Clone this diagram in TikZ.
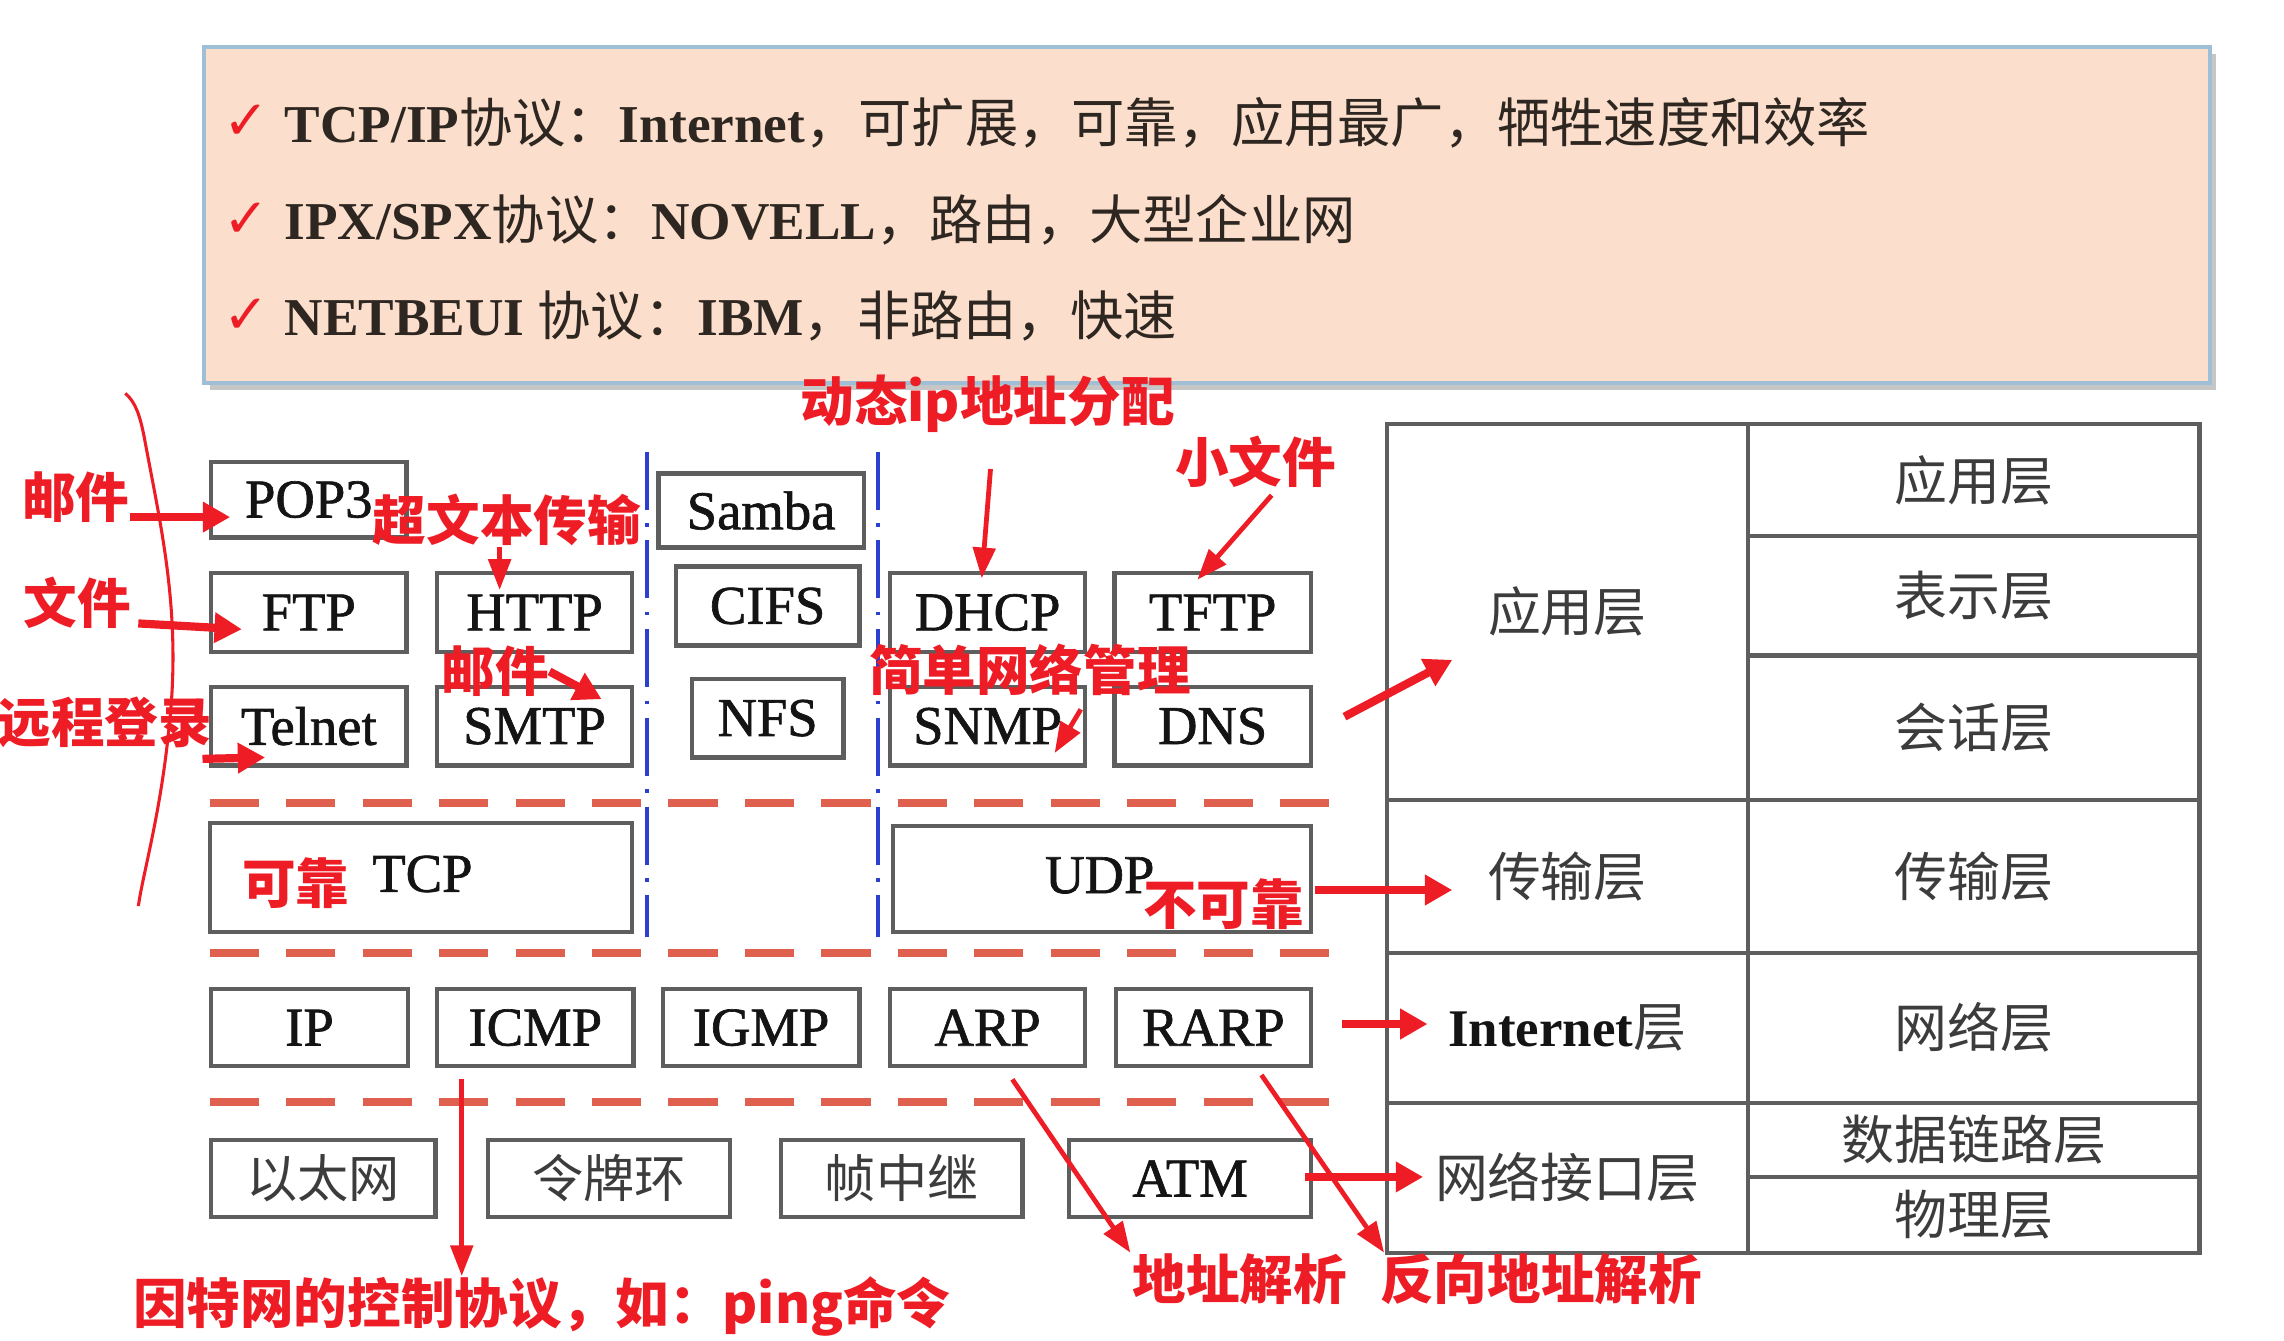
\documentclass[tikz,border=0pt]{standalone}
\usepackage{fontspec}
\setmainfont{Liberation Serif}
\newfontfamily\boxfont{Liberation Serif}[FakeBold=1.2]
\newfontfamily\cjk{Noto Sans CJK SC}
\newfontfamily\symf{DejaVu Sans}
\usetikzlibrary{arrows.meta}
\definecolor{annred}{HTML}{EE1C25}
\definecolor{dashred}{HTML}{E0604F}
\definecolor{vblue}{HTML}{2B3FD0}
\definecolor{boxgray}{HTML}{5E5E5E}
\definecolor{boxtext}{HTML}{141414}
\definecolor{tabtext}{HTML}{3C3C3C}
\definecolor{peach}{HTML}{FBDFCC}
\definecolor{peachborder}{HTML}{9EBFD6}
\definecolor{infotext}{HTML}{2E2620}
\begin{document}
\begin{tikzpicture}[x=0.015cm,y=-0.015cm,
  pbox/.style n args={2}{draw=boxgray, line width=1.3pt, fill=white, inner sep=0pt,
     minimum width=#1*0.015cm, minimum height=#2*0.015cm,
     font=\boxfont\fontsize{16}{16}\selectfont, text=boxtext},
  cbox/.style n args={2}{pbox={#1}{#2}, font=\cjk\fontsize{15}{15}\selectfont, text=tabtext},
  cell/.style n args={2}{draw=boxgray, line width=1.2pt, inner sep=0pt,
     minimum width=#1*0.015cm, minimum height=#2*0.015cm,
     font=\cjk\fontsize{15.5}{15.5}\selectfont, text=tabtext},
  ann/.style={text=annred, font=\cjk\bfseries\fontsize{15.7}{15.7}\selectfont, inner sep=0pt},
  infoline/.style={anchor=west, text=infotext, font=\fontsize{15.6}{15.6}\selectfont, inner sep=0pt},
  tick/.style={text=annred, font=\symf\fontsize{16}{16}\selectfont, inner sep=0pt},
  rarrow/.style={draw=annred, line width=2.4pt, -{Triangle[length=8pt,width=8.5pt]}},
  rthin/.style={draw=annred, line width=1.4pt, -{Triangle[length=9pt,width=6.5pt]}},
  layerdash/.style={draw=dashred, line width=2.4pt, dash pattern=on 14.4pt off 8pt},
  vdash/.style={draw=vblue, line width=1.1pt, dash pattern=on 17pt off 4pt on 1pt off 4pt}
]
\useasboundingbox (0,0) rectangle (1568,920);
\fill[white] (0,0) rectangle (1568,920);

% ---------- info box ----------
\fill[gray!45] (144,37) rectangle (1521,268);
\node[draw=peachborder, line width=1.2pt, fill=peach, minimum width=1377*0.015cm,
      minimum height=231*0.015cm, inner sep=0pt] (info) at (828.5,147.5) {};
\node[tick] (ck1) at (169,84) {✓};
\node[tick] (ck2) at (169,151) {✓};
\node[tick] (ck3) at (169,217) {✓};
\node[infoline] (l1) at (195,84) {{\bfseries TCP/IP}{\cjk 协议：}{\bfseries Internet}{\cjk ，可扩展，可靠，应用最广，牺牲速度和效率}};
\node[infoline] (l2) at (195,151) {{\bfseries IPX/SPX}{\cjk 协议：}{\bfseries NOVELL}{\cjk ，路由，大型企业网}};
\node[infoline] (l3) at (195,217) {{\bfseries NETBEUI} {\cjk 协议：}{\bfseries IBM}{\cjk ，非路由，快速}};

% ---------- layer separators ----------
\draw[layerdash] (144,551) -- (913,551);
\draw[layerdash] (144,654) -- (913,654);
\draw[layerdash] (144,756.5) -- (913,756.5);
\draw[vdash] (444,310) -- (444,643);
\draw[vdash] (603,310) -- (603,643);

% ---------- protocol boxes ----------
\node[pbox={134}{52}] (pop3) at (212,343) {POP3};
\node[pbox={141}{51}] (samba) at (522.5,350.5) {Samba};
\node[pbox={134}{54}] (ftp) at (212,420.5) {FTP};
\node[pbox={134}{54}] (http) at (367,420.5) {HTTP};
\node[pbox={126}{54}] (cifs) at (527,416) {CIFS};
\node[pbox={134}{54}] (dhcp) at (678,420.5) {DHCP};
\node[pbox={135}{54}] (tftp) at (832.5,420.5) {TFTP};
\node[pbox={134}{54}] (telnet) at (212,498.5) {Telnet};
\node[pbox={134}{54}] (smtp) at (367,498.5) {SMTP};
\node[pbox={104}{54}] (nfs) at (527,493) {NFS};
\node[pbox={134}{54}] (snmp) at (678,498.5) {SNMP};
\node[pbox={135}{54}] (dns) at (832.5,498.5) {DNS};
\node[pbox={290}{75}] (tcpbox) at (289,602.5) {};
\node[pbox={287}{73}] (udpbox) at (756.5,603.5) {};
\node[font=\boxfont\fontsize{16}{16}\selectfont, text=boxtext, inner sep=0pt] (tcp) at (290,600) {TCP};
\node[font=\boxfont\fontsize{16}{16}\selectfont, text=boxtext, inner sep=0pt] (udp) at (755,601) {UDP};
\node[pbox={135}{53}] (ip) at (212.5,705.5) {IP};
\node[pbox={135}{53}] (icmp) at (367.5,705.5) {ICMP};
\node[pbox={135}{53}] (igmp) at (522.5,705.5) {IGMP};
\node[pbox={134}{53}] (arp) at (678,705.5) {ARP};
\node[pbox={134}{53}] (rarp) at (833,705.5) {RARP};
\node[cbox={154}{53}] (eth) at (222,809) {以太网};
\node[cbox={166}{53}] (token) at (418,809) {令牌环};
\node[cbox={166}{53}] (frame) at (619,809) {帧中继};
\node[pbox={166}{53}] (atm) at (817,809) {ATM};

% ---------- layer table ----------
\node[cell={248}{258}] (tapp) at (1076,420) {应用层};
\node[cell={248}{105}] (ttrans) at (1076,601.5) {传输层};
\node[cell={248}{103}] (tinet) at (1076,705.5) {{\rmfamily\bfseries\color{boxtext}Internet}层};
\node[cell={248}{103}] (tnet) at (1076,808.5) {网络接口层};
\node[cell={310}{77}] (oapp) at (1355,329.5) {应用层};
\node[cell={310}{82}] (opres) at (1355,409) {表示层};
\node[cell={310}{99}] (osess) at (1355,499.5) {会话层};
\node[cell={310}{105}] (otrans) at (1355,601.5) {传输层};
\node[cell={310}{103}] (onet) at (1355,705.5) {网络层};
\node[cell={310}{51}] (olink) at (1355,782.5) {数据链路层};
\node[cell={310}{52}] (ophy) at (1355,834) {物理层};

% ---------- red annotations ----------
\draw[annred, line width=0.9pt] (86,270) .. controls (93,276) and (96,285) .. (99,300)
   .. controls (110,360) and (125,420) .. (116,500) .. controls (110,560) and (98,600) .. (95,622);

\node[ann] (amail) at (52,341) {邮件};
\node[ann] (afile) at (53,414) {文件};
\node[ann] (alogin) at (72,496) {远程登录};
\node[ann] (ahttp) at (348,357) {超文本传输};
\node[ann] (amail2) at (340,461) {邮件};
\node[ann] (adhcp) at (678,277) {动态ip地址分配};
\node[ann] (atftp) at (862,317) {小文件};
\node[ann] (asnmp) at (707,460) {简单网络管理};
\node[ann] (areli) at (203,606) {可靠};
\node[ann] (aunreli) at (840,621) {不可靠};
\node[ann] (aicmp) at (372,897) {因特网的控制协议，如：ping命令};
\node[ann] (aarp) at (851,878) {地址解析};
\node[ann] (ararp) at (1058,878) {反向地址解析};

\coordinate (e1) at (158,355);
\coordinate (e2) at (166,432);
\coordinate (e3) at (182,520);
\coordinate (e4) at (343,405);
\coordinate (e5) at (413,480);
\coordinate (s6) at (680,322);
\coordinate (e6) at (674,397);
\coordinate (s7) at (873,340);
\coordinate (e7) at (822,398);
\coordinate (s8) at (742,487);
\coordinate (e8) at (724,517);
\coordinate (e9) at (997,453);
\coordinate (s9) at (923,492);
\coordinate (e10) at (997,611);
\coordinate (e11) at (980,703);
\coordinate (s11) at (921,703);
\coordinate (e12) at (977,808);
\coordinate (s12) at (896,808);
\coordinate (s13) at (317,741);
\coordinate (s14) at (695,741);
\coordinate (s15) at (866,738);

\draw[rarrow] (amail.east |- e1) -- (e1);
\draw[rarrow] ([xshift=2pt]afile.east |- 0,428) -- (e2);
\draw[rarrow] ([xshift=-3pt,yshift=-3pt]alogin.south east) -- (e3);
\draw[rthin] (ahttp.south -| e4) -- (e4);
\draw[rarrow] (amail2.east) -- (e5);
\draw[rthin] (s6) -- (e6);
\draw[rthin] (s7) -- (e7);
\draw[rthin] (s8) -- (e8);
\draw[rarrow] (s9) -- (e9);
\draw[rarrow] ([xshift=3pt]aunreli.east |- e10) -- (e10);
\draw[rarrow] (s11) -- (e11);
\draw[rarrow] (s12) -- (e12);
\draw[rthin] (s13) -- (aicmp.north -| s13);
\draw[rthin] (s14) -- ([xshift=-32pt]aarp.north);
\draw[rthin] (s15) -- ([xshift=-46pt]ararp.north);
\end{tikzpicture}
\end{document}
